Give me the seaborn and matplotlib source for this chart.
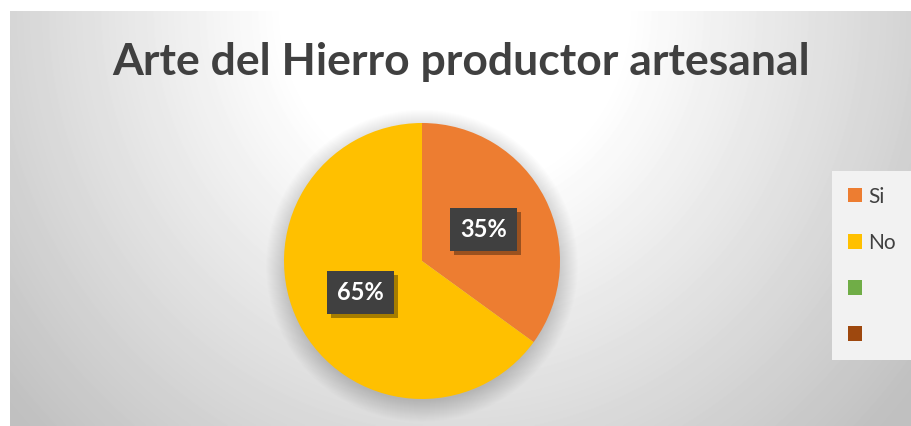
import numpy as np
import matplotlib
matplotlib.use("Agg")
import matplotlib.pyplot as plt
import matplotlib.patches as mpatches
import matplotlib.patheffects as pe
import seaborn as sns

# ---- data ----
categories = ["Si", "No"]
values = [35, 65]
legend_labels = ["Si", "No", "", ""]
colors = ["#ED7D31", "#FFC000", "#70AD47", "#9E480E"]
title = "Arte del Hierro productor artesanal"

sns.set_theme(style="white")
plt.rcParams["font.family"] = ["Lato", "DejaVu Sans"]

W, H = 911, 426
fig = plt.figure(figsize=(W / 100, H / 100), dpi=100)
fig.patch.set_facecolor("white")

# background radial gradient (chart area)
x0, y0 = 10, 11
bw, bh = W - x0, H - y0
yy, xx = np.mgrid[0:bh, 0:bw]
cx, cy = 445, 0
d = np.sqrt(((xx - cx) / 500.0) ** 2 + ((yy - cy) / 520.0) ** 2)
val = 255 - 76 * np.clip(d - 0.34, 0, None)
val = np.clip(val, 192, 255) / 255.0
bg = fig.add_axes([x0 / W, 0, bw / W, bh / H])
bg.imshow(val, cmap="gray", vmin=0, vmax=1, aspect="auto", interpolation="bilinear")
bg.axis("off")

# pie axes
pcx, pcy, r = 422, 261, 138
ax = fig.add_axes([(pcx - r) / W, (H - pcy - r) / H, 2 * r / W, 2 * r / H])
ax.set_facecolor("none")

# soft shadow under pie
for rr in np.linspace(1.13, 0.98, 22):
    ax.add_patch(mpatches.Circle((0.0, -0.035), rr, color="black",
                                 alpha=0.009, lw=0, zorder=0, clip_on=False))

wedges, texts, autotexts = ax.pie(
    values, colors=colors[:2], startangle=90, counterclock=False,
    autopct="%1.0f%%", pctdistance=0.5,
    wedgeprops=dict(linewidth=0),
    textprops=dict(color="white", fontsize=17, fontweight="bold"),
)
for w in wedges:
    w.set_zorder(2)
for t in autotexts:
    t.set_zorder(5)
    t.set_bbox(dict(boxstyle="square,pad=0.42", facecolor="#404040", edgecolor="none"))
    t.get_bbox_patch().set_path_effects([
        pe.SimplePatchShadow(offset=(3, -3), shadow_rgbFace="black", alpha=0.35),
        pe.Normal(),
    ])
ax.set_xlim(-1, 1)
ax.set_ylim(-1, 1)
ax.set_aspect("equal")
ax.axis("off")

# title
fig.text(461 / W, 1 - 62 / H, title, ha="center", va="center", fontsize=32,
         fontweight="bold", color="#404040")

# legend
handles = [mpatches.Patch(facecolor=c, edgecolor="none") for c in colors]
leg = fig.legend(handles, legend_labels, loc="upper left",
                 bbox_to_anchor=(832 / W, 1 - 171 / H), frameon=True,
                 fontsize=15, handlelength=0.68, handleheight=0.68,
                 handletextpad=0.3, labelspacing=1.25, borderpad=0.75,
                 fancybox=False, borderaxespad=0)
leg.get_frame().set_facecolor("#F2F2F2")
leg.get_frame().set_edgecolor("none")
leg.get_frame().set_alpha(1)
for t in leg.get_texts():
    t.set_color("#404040")

fig.savefig("out.png", dpi=100)
